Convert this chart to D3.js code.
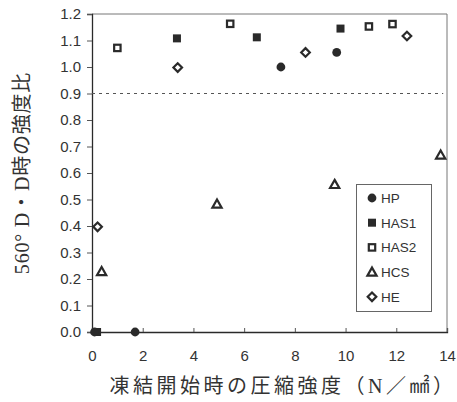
<!DOCTYPE html>
<html><head><meta charset="utf-8">
<script src="https://cdn.jsdelivr.net/npm/d3@7"></script>
<style>body{margin:0;background:#fff}</style>
</head><body>
<svg id="c" width="457" height="402"></svg>
<script>
const seriesNames = ["HP","HAS1","HAS2","HCS","HE"];
const hpX = [0.1, 1.7, 7.45, 9.65];
const hpY = [0.0, 0.0, 1.00, 1.055];
const has1X = [0.2, 3.35, 6.5, 9.8];
const has1Y = [0.0, 1.108, 1.112, 1.145];
const has2X = [1.0, 5.45, 10.92, 11.85];
const has2Y = [1.072, 1.163, 1.153, 1.162];
const hcsX = [0.38, 4.93, 9.57, 13.75];
const hcsY = [0.228, 0.483, 0.557, 0.668];
const heX = [0.22, 3.38, 8.42, 12.42];
const heY = [0.397, 0.998, 1.055, 1.117];
const xTicks = [0,2,4,6,8,10,12,14];
const yTicks = [0,0.1,0.2,0.3,0.4,0.5,0.6,0.7,0.8,0.9,1.0,1.1,1.2];
const refLine = 0.9;
const xTitle = "凍結開始時の圧縮強度（N／㎟）";
const yTitle = "560° D・D時の強度比";

const svg = d3.select("#c");
const ink = "#2a2a2a";
const x = d3.scaleLinear().domain([0,14]).range([92,447]);
const y = d3.scaleLinear().domain([0,1.2]).range([332,14]);

// frame
svg.append("line").attr("x1",x(0)).attr("x2",x(14)).attr("y1",y(1.2)).attr("y2",y(1.2)).attr("stroke","#777").attr("stroke-width",1);
svg.append("line").attr("x1",x(14)).attr("x2",x(14)).attr("y1",y(1.2)).attr("y2",y(0)).attr("stroke","#777").attr("stroke-width",1);

const tickFont = "'Liberation Sans', Arial, sans-serif";
const yAxis = svg.append("g").attr("transform",`translate(${x(0)},0)`)
  .call(d3.axisLeft(y).tickValues(yTicks).tickFormat(d3.format(".1f")).tickSize(5).tickPadding(6));
const xAxis = svg.append("g").attr("transform",`translate(0,${y(0)})`)
  .call(d3.axisBottom(x).tickValues(xTicks).tickFormat(d3.format("d")).tickSize(-4).tickPadding(18));
[yAxis,xAxis].forEach(g=>{
  g.select(".domain").attr("stroke",ink).attr("stroke-width",1.3);
  g.selectAll(".tick line").attr("stroke","#555");
  g.selectAll("text").attr("fill","#333").style("font-family",tickFont).style("font-size","15px");
});

// reference line
svg.append("line").attr("x1",x(0)).attr("x2",x(13.85)).attr("y1",y(refLine)).attr("y2",y(refLine))
  .attr("stroke","#555").attr("stroke-width",1).attr("stroke-dasharray","3,4");

function marker(g, type){
  if(type==="HP") g.append("circle").attr("r",4.4).attr("fill",ink);
  else if(type==="HAS1") g.append("rect").attr("x",-4).attr("y",-4).attr("width",8).attr("height",8).attr("fill",ink);
  else if(type==="HAS2") g.append("rect").attr("x",-3.2).attr("y",-3.2).attr("width",6.4).attr("height",6.4).attr("fill","#fff").attr("stroke",ink).attr("stroke-width",2.2);
  else if(type==="HCS") g.append("path").attr("d","M0,-4.5L4.6,3.6L-4.6,3.6Z").attr("fill","#fff").attr("stroke",ink).attr("stroke-width",2.2);
  else if(type==="HE") g.append("path").attr("d","M0,-4.3L4.3,0L0,4.3L-4.3,0Z").attr("fill","#fff").attr("stroke",ink).attr("stroke-width",2.2);
}
const series = {HP:[hpX,hpY],HAS1:[has1X,has1Y],HAS2:[has2X,has2Y],HCS:[hcsX,hcsY],HE:[heX,heY]};
["HE","HCS","HAS2","HAS1","HP"].forEach(name=>{
  const [xs,ys] = series[name];
  xs.forEach((v,i)=>{
    const g = svg.append("g").attr("transform",`translate(${x(v)},${y(ys[i])})`);
    marker(g,name);
  });
});

// legend
const lg = svg.append("g");
lg.append("rect").attr("x",356.5).attr("y",184.5).attr("width",75).attr("height",127)
  .attr("fill","#fff").attr("stroke","#666").attr("stroke-width",1);
seriesNames.forEach((n,i)=>{
  const cy = 198 + i*24.7;
  const g = lg.append("g").attr("transform",`translate(372,${cy})`);
  marker(g,n);
  lg.append("text").attr("x",381).attr("y",cy).attr("dy","0.36em").text(n)
    .attr("fill","#333").style("font-family",tickFont).style("font-size","13.5px");
});

// titles
const titleFont = "'Liberation Serif', 'DejaVu Serif', 'Noto Sans CJK JP', serif";
svg.append("text").attr("x",283).attr("y",386).attr("text-anchor","middle").attr("dy","0.35em")
  .text(xTitle).attr("fill","#333").style("font-family",titleFont).style("font-size","20px").style("letter-spacing","3.5px");
svg.append("text").attr("transform","translate(22,173) rotate(-90)").attr("text-anchor","middle").attr("dy","0.35em")
  .text(yTitle).attr("fill","#333").style("font-family",titleFont).style("font-size","20px").style("letter-spacing","0.8px");
</script>
</body></html>
